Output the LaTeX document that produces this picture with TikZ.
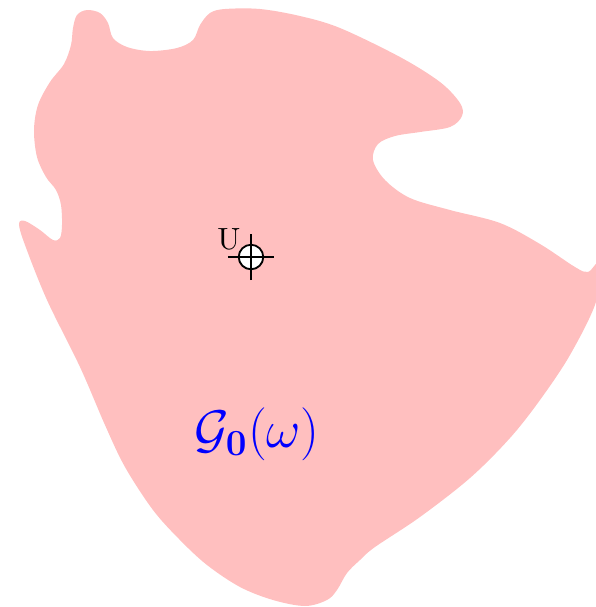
\documentclass[tikz,border=0pt]{standalone}
\usepackage{amsmath}
\begin{document}
\begin{tikzpicture}[x=0.326pt,y=-0.326pt,
  blob/.style={fill=red!25,draw=none},
  crossline/.style={line width=0.6pt,black},
  lab/.style={inner sep=0pt}]
\useasboundingbox (0,0) rectangle (596,607);
\clip (0,0) rectangle (596,607);
\fill[blob] plot[smooth cycle,tension=0.55] coordinates {
 (77,15) (87,10) (100,13) (108,23) (113,38) (127,47) (150,51) (177,48)
 (193,40) (200,25) (210,13) (225,9) (260,9) (300,16) (340,28) (400,57)
 (440,82) (460,103) (462,116)
 (450,127) (420,132) (395,136) (378,144) (373,160) (385,180) (410,198)
 (450,210) (500,223) (540,244) (575,267) (588,272) (600,262)
 (596,302) (570,355) (540,400) (510,438) (470,478) (420,517) (375,547)
 (360,560) (347,573) (337,590) (327,600) (305,606) (273,600) (240,587)
 (207,565) (180,540) (153,510) (125,467) (105,425) (80,367) (47,300)
 (25,245) (19,224)
 (25,221) (40,230) (53,240) (60,238) (62,225) (61,205) (56,190)
 (46,177) (37,157) (34,130) (38,105) (50,82) (64,64) (71,45) (73,28)};
\coordinate (c) at (251,257);
\draw[crossline,fill=white] (c) circle[radius=4pt];
\draw[crossline] ([xshift=-7.5pt]c) -- ([xshift=7.5pt]c);
\draw[crossline] ([yshift=-7.5pt]c) -- ([yshift=7.5pt]c);
\node[lab] (u) at (229,239) {U};
\node[lab,text=blue] (g) at (257,434) {\LARGE $\mathcal{G}_{\mathbf{0}}(\omega)$};
\end{tikzpicture}
\end{document}
